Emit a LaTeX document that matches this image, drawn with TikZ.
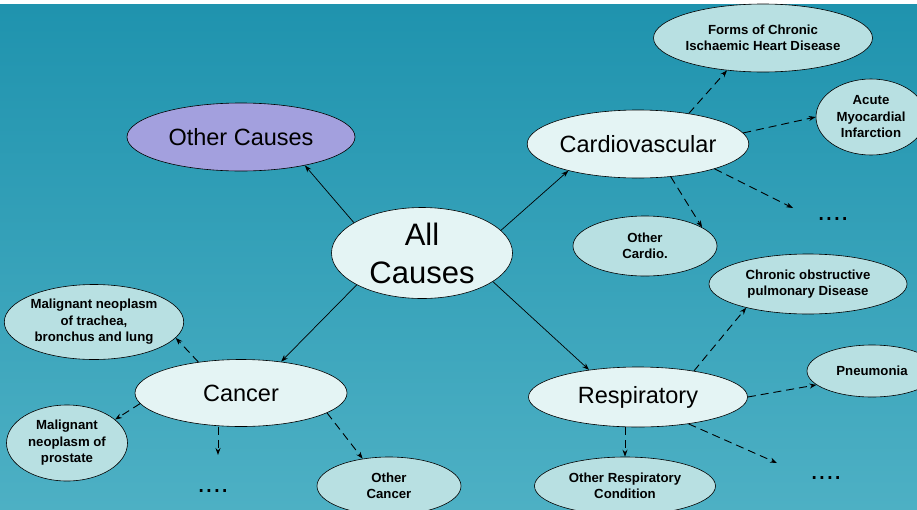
\documentclass[tikz,border=0pt]{standalone}
\usepackage{fontspec}
\setmainfont{Liberation Sans}
\usepackage{xcolor}
\definecolor{cTop}{HTML}{1F93AE}
\definecolor{cBot}{HTML}{4DB0C4}
\definecolor{cMain}{HTML}{E4F4F4}
\definecolor{cSub}{HTML}{B8E0E2}
\definecolor{cOther}{HTML}{A3A0DE}
\usepackage{tikz}
\usetikzlibrary{positioning, arrows.meta, shapes.geometric}

\begin{document}
\begin{tikzpicture}[
    x=1pt, y=-1pt, on grid,
    mainnode/.style={draw, ellipse, fill=cMain, inner sep=0pt, line width=0.6pt,
                     minimum width=219pt, minimum height=68pt, align=center,
                     font=\fontsize{23.5}{26}\selectfont},
    subnode/.style={draw, ellipse, fill=cSub, inner sep=0pt, line width=0.6pt,
                    align=center, font=\fontsize{13.2}{16.5}\selectfont\bfseries},
    dots/.style={inner sep=0pt, font=\fontsize{28}{28}\selectfont},
    arr/.style={-{Stealth[length=7pt, width=5pt]}, line width=0.7pt},
    darr/.style={-{Stealth[length=7pt, width=5pt]}, line width=0.9pt,
                 dash pattern=on 8pt off 5pt}
]
% background
\useasboundingbox (0,0) rectangle (917,509);
\fill[white] (0,0) rectangle (917,509);
\shade[top color=cTop, bottom color=cBot] (0,4.5) rectangle (917,509);

% main nodes
\node[mainnode, minimum width=181pt, minimum height=91pt,
      font=\fontsize{31}{38}\selectfont] (all) at (422,253) {All\\Causes};
\node[mainnode, fill=cOther, minimum width=228pt, above left=116pt and 181pt of all] (other) {Other Causes};
\node[mainnode, above right=109pt and 216pt of all] (cardio) {Cardiovascular};
\node[mainnode, minimum height=60pt, below right=144pt and 216pt of all] (resp) {Respiratory};
\node[mainnode, minimum width=212pt, minimum height=67pt, below left=140pt and 181pt of all] (cancer) {Cancer};

% cardiovascular
\node[subnode, minimum width=197pt, minimum height=68pt, above right=106pt and 125pt of cardio] (forms) {Forms of Chronic\\Ischaemic Heart Disease};
\node[subnode, minimum width=110pt, minimum height=76pt, above right=27pt and 233pt of cardio] (acute) {Acute\\Myocardial\\Infarction};
\node[subnode, minimum width=144pt, minimum height=60pt, below right=102pt and 7pt of cardio] (ocardio) {Other\\Cardio.};
\node[dots, below right=75pt and 195pt of cardio] (cdots) {....};
\coordinate[above left=11pt and 40pt of cdots] (ctip);

% respiratory
\node[subnode, minimum width=198pt, minimum height=60pt, above right=113pt and 170pt of resp] (copd) {Chronic obstructive\\pulmonary Disease};
\node[subnode, minimum width=130pt, minimum height=52pt, above right=26pt and 234pt of resp] (pneu) {Pneumonia};
\node[subnode, minimum width=181pt, minimum height=58pt, below left=89pt and 13pt of resp] (oresp) {Other Respiratory\\Condition};
\node[dots, below right=81pt and 188pt of resp] (rdots) {....};
\coordinate[above left=15pt and 49pt of rdots] (rtip);

% cancer
\node[subnode, minimum width=174pt, minimum height=75pt, above left=71pt and 147pt of cancer] (trachea) {Malignant neoplasm\\of trachea,\\bronchus and lung};
\node[subnode, minimum width=121pt, minimum height=76pt, below left=50pt and 174pt of cancer] (prostate) {Malignant\\neoplasm of\\prostate};
\node[subnode, minimum width=144pt, minimum height=58pt, below right=93pt and 148pt of cancer] (ocancer) {Other\\Cancer};
\node[dots, below left=98pt and 28pt of cancer] (kdots) {....};
\coordinate[above right=36pt and 5pt of kdots] (ktip);

\draw[arr] (all.156) -- (other.-24);
\draw[arr] (all.16) -- (cardio.201);
\draw[arr] (all.206) -- (cancer.38);
\draw[arr] (all.-22) -- (resp.151);

\draw[darr] (cardio.31) -- (forms.222);
\draw[darr] (cardio.6) -- (acute.west);
\draw[darr] (cardio.-18) -- (ctip);
\draw[darr] (cardio.-45) -- (ocardio.18);

\draw[darr] (resp.25) -- (copd.201);
\draw[darr] (resp.east) -- (pneu.194);
\draw[darr] (resp.-28) -- (rtip);
\draw[darr] (resp.south -| oresp.north) -- (oresp.north);

\draw[darr] (cancer.144) -- (trachea.-11);
\draw[darr] (cancer.186) -- (prostate.26);
\draw[darr] (cancer.south -| ktip) -- (ktip);
\draw[darr] (cancer.-13) -- (ocancer.134);
\end{tikzpicture}
\end{document}
